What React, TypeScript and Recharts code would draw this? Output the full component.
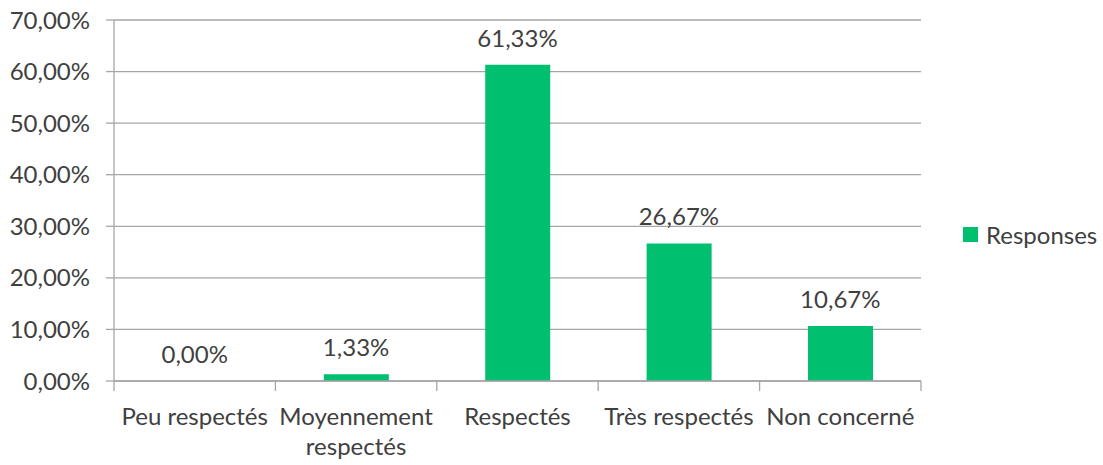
import React from 'react';
import {
  Bar,
  CartesianGrid,
  ComposedChart,
  LabelList,
  Legend,
  Line,
  XAxis,
  YAxis,
} from 'recharts';

const categories = [
  'Peu respectés',
  'Moyennement respectés',
  'Respectés',
  'Très respectés',
  'Non concerné',
];
const responses = [0, 1.33, 61.33, 26.67, 10.67];
const yTicks = [0, 10, 20, 30, 40, 50, 60, 70];

const FONT = 'Lato, "Open Sans", sans-serif';
const TEXT = '#404040';
const GRID = '#a6a6a6';
const GREEN = '#00bf6f';
const FS = 24;

const chartData = categories.map((name, i) => ({
  name,
  Responses: responses[i],
}));

const fmt = (v: number) => `${v.toFixed(2).replace('.', ',')}%`;

// long category names go on two lines, like the original
const CategoryTick = (props: any) => {
  const { x, y, payload, index, visibleTicksCount } = props;
  const label: string = payload.value;
  const cut = label.lastIndexOf(' ');
  const lines = label.length > 15 ? [label.slice(0, cut), label.slice(cut + 1)] : [label];
  const half = (payload.offset ?? 0) as number;
  return (
    <g>
      {index === visibleTicksCount - 1 && half > 0 && (
        <line x1={x + half} x2={x + half} y1={y - 12} y2={y - 2} stroke={GRID} strokeWidth={1.3} />
      )}
      <text x={x} y={y} textAnchor='middle' fill={TEXT} fontSize={FS} fontFamily={FONT}>
        {lines.map((l, i) => (
          <tspan key={i} x={x} dy={i === 0 ? 32 : 30}>
            {l}
          </tspan>
        ))}
      </text>
    </g>
  );
};

const LegendContent = () => (
  <div style={{ display: 'flex', alignItems: 'center', fontFamily: FONT }}>
    <span
      style={{
        display: 'inline-block',
        width: 15,
        height: 15,
        background: GREEN,
        marginRight: 8,
      }}
    />
    <span style={{ fontSize: FS, color: TEXT }}>Responses</span>
  </div>
);

export default function App() {
  return (
    <div style={{ position: 'absolute', left: 0, top: 0, background: '#fff' }}>
      <ComposedChart
        width={1103}
        height={465}
        data={chartData}
        margin={{ top: 20, right: 182, left: 0, bottom: 0 }}
        barCategoryGap='30%'
      >
        <CartesianGrid vertical={false} stroke={GRID} strokeWidth={1.3} />
        <XAxis
          dataKey='name'
          height={84}
          interval={0}
          stroke={GRID}
          strokeWidth={1.3}
          tickSize={10}
          tick={<CategoryTick />}
          tickLine={{ stroke: GRID, transform: 'translate(-80.7, 0)' }}
        />
        <YAxis
          width={114}
          domain={[0, 70]}
          ticks={yTicks}
          interval={0}
          tickFormatter={fmt}
          stroke={GRID}
          strokeWidth={1.3}
          tickSize={8}
          tickMargin={16}
          tick={{ fill: TEXT, fontSize: FS, fontFamily: FONT }}
        />
        <Legend
          layout='horizontal'
          verticalAlign='middle'
          content={<LegendContent />}
          wrapperStyle={{ position: 'absolute', left: 963, top: 220, width: 140 }}
        />
        <Bar dataKey='Responses' fill={GREEN} isAnimationActive={false} />
        {/* invisible line carrying the value labels, so the 0 bar gets one too */}
        <Line
          dataKey='Responses'
          stroke='none'
          dot={false}
          activeDot={false}
          legendType='none'
          isAnimationActive={false}
        >
          <LabelList
            dataKey='Responses'
            position='top'
            offset={18}
            formatter={(v: any) => fmt(Number(v))}
            fill={TEXT}
            fontSize={FS}
            fontFamily={FONT}
          />
        </Line>
      </ComposedChart>
    </div>
  );
}
